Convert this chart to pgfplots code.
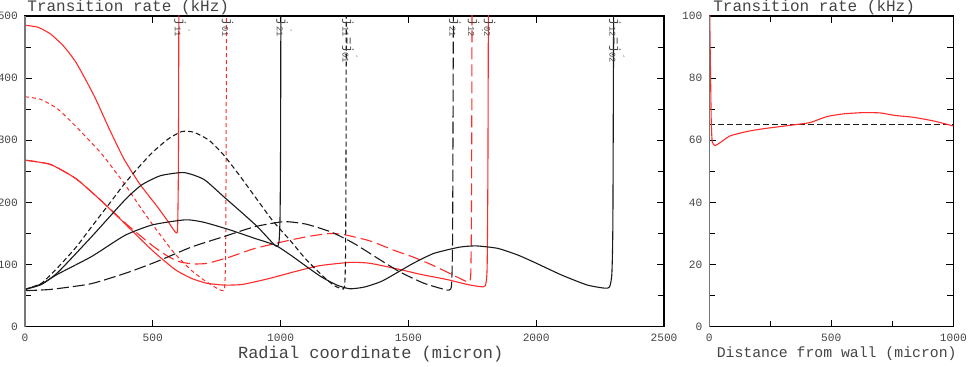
\documentclass[border=0pt]{standalone}
\usepackage{fontspec}
\setmainfont{Liberation Mono}
\setmonofont{Liberation Mono}
\usepackage{pgfplots}
\pgfplotsset{compat=1.18}
\definecolor{txtgray}{HTML}{444444}
\definecolor{spinegray}{HTML}{777777}
\definecolor{curvered}{HTML}{FF2A2A}
\definecolor{curveblk}{HTML}{1A1A1A}

\pgfplotsset{
  panel/.style={
    scale only axis, height=155.35pt, ymin=0,
    clip mode=individual,
    tick align=inside,
    major tick length=3.5pt, minor tick length=3pt,
    axis line style={black, line width=0.6pt},
    tick style={black, line width=0.5pt},
    tick label style={font=\fontsize{5.6}{6}\selectfont, text=txtgray},
    /pgf/number format/assume math mode=true,
    /pgf/number format/1000 sep={},
    xlabel style={anchor=center, text=txtgray},
  },
  rs/.style={curvered, line width=0.55pt, smooth, tension=0.35},
  rsd/.style={curvered, line width=0.5pt, smooth, tension=0.35, dash pattern=on 2pt off 1.5pt},
  rld/.style={curvered, line width=0.55pt, smooth, tension=0.35, dash pattern=on 6pt off 2.5pt},
  bs/.style={curveblk, line width=0.55pt, smooth, tension=0.35},
  bsd/.style={curveblk, line width=0.55pt, smooth, tension=0.35, dash pattern=on 2.5pt off 1.5pt},
  bld/.style={curveblk, line width=0.55pt, smooth, tension=0.35, dash pattern=on 6pt off 2pt},
}
\tikzset{
  zlab/.style={rotate=-90, anchor=south west, inner sep=0pt, xshift=1.2pt, yshift=-2.5pt,
    text=txtgray},
  ttl/.style={anchor=base west, inner sep=0pt, text=txtgray},
}
\newcommand{\jp}{j\rlap{\textsuperscript{\'{}}}}
\newcommand{\zl}[1]{{\fontsize{6.2}{7}\selectfont #1}}
\newcommand{\ttltext}{{\fontsize{8}{9}\selectfont Transition rate (kHz)}}

\begin{document}
\begin{tikzpicture}
\begin{axis}[panel,
  width=319.5pt,
  xmin=0, xmax=2500, ymax=500,
  xtick={0,500,...,2500}, ytick={0,100,...,500},
  minor ytick={50,150,...,450},
  xlabel={Radial coordinate (micron)},
  xlabel style={at={(rel axis cs:0.541,0)}, yshift=-13.7pt, font=\fontsize{8.5}{9}\selectfont},
]
% red solid, j'11
\addplot[rs] coordinates {(0,485)(50,482)(100,471)(150,452)(200,425)(270,372)(330,318)
  (387,270)(450,229)(518,193)(560,169)(583,155)(592,151)(597,158)(600,250)(602,520)};
% red short dash, j01
\addplot[rsd] coordinates {(0,370)(60,366)(126,351)(200,322)(300,278)(387,231)(450,193)
  (500,164)(583,119)(650,91)(700,75)(750,62)(772,58)(781,62)(785,120)(787,300)(788,520)};
% red long dash, j'12
\addplot[rld] coordinates {(0,268)(100,261)(200,238)(300,202)(400,164)(500,130)(560,113)
  (609,104)(660,101)(713,102)(800,112)(900,126)(1039,139.5)(1120,146)(1193,150)(1250,148)
  (1350,138)(1450,122)(1519,112)(1600,98)(1680,82)(1720,74)(1737,72)(1744,85)(1747,200)(1749,520)};
% red solid, j02
\addplot[rs] coordinates {(0,268)(100,261)(200,238)(300,202)(400,162)(500,122)(587,92)
  (650,78)(710,70)(778,67)(850,68)(950,77)(1050,88)(1150,98)(1271,103.5)(1350,102)
  (1467,92)(1550,84)(1650,76)(1730,68)(1780,64.5)(1801,66)(1808,95)(1811,250)(1813,520)};
% black solid, j'21
\addplot[bs] coordinates {(0,60)(65,68)(130,88)(261,145)(391,204)(456,228)(530,243)(622,248)
  (700,237)(778,209)(850,183)(909,161)(950,143)(975,132)(987,129)(994,137)(998,180)
  (1000,300)(1001,520)};
% black short dash, j11=j'01
\addplot[bsd] coordinates {(0,60)(65,70)(130,96)(200,128)(261,161)(330,198)(391,231)
  (450,259)(500,281)(560,302)(613,314)(660,313)(720,300)(778,276)(840,243)(909,204)
  (970,170)(1039,138)(1100,108)(1169,80)(1210,66)(1240,61)(1250,64)(1254,110)(1256,280)(1257,520)};
% black long dash, j21
\addplot[bld] coordinates {(0,58)(100,60)(257,69)(400,87)(517,105)(650,128)(778,145)
  (900,161)(1013,169)(1100,165)(1200,152)(1287,134)(1380,110)(1467,88)(1560,70)(1640,60)
  (1660,59)(1669,68)(1673,150)(1676,520)};
% black solid, j12=j'02
\addplot[bs] coordinates {(0,60)(65,69)(130,85)(261,113)(391,147)(500,164)(628,172)(700,168)
  (800,156)(900,142)(980,131)(1040,115)(1104,96)(1160,80)(1220,67)(1271,61)(1330,64)
  (1400,74)(1519,102)(1600,118)(1700,128)(1766,130)(1850,126)(1930,115)(2001,102)
  (2100,83)(2200,67)(2268,62)(2287,64)(2296,85)(2300,170)(2303,520)};
\node[zlab] at (axis cs:602,500) {\zl{\jp\textsubscript{11}}};
\node[zlab] at (axis cs:788,500) {\zl{j\textsubscript{01}}};
\node[zlab] at (axis cs:1001,500) {\zl{\jp\textsubscript{21}}};
\node[zlab] at (axis cs:1258,500) {\zl{j\textsubscript{11}=\jp\textsubscript{01}}};
\node[zlab] at (axis cs:1677,500) {\zl{j\textsubscript{21}}};
\node[zlab] at (axis cs:1750,500) {\zl{\jp\textsubscript{12}}};
\node[zlab] at (axis cs:1813,500) {\zl{j\textsubscript{02}}};
\node[zlab] at (axis cs:2303,500) {\zl{j\textsubscript{12}=\jp\textsubscript{02}}};
\draw[spinegray, line width=1pt] (rel axis cs:0,0) -- (rel axis cs:0,1);
\node[ttl] at (rel axis cs:0,1) [xshift=1pt, yshift=2pt] {\ttltext};
\end{axis}

\begin{axis}[panel, at={(342.15pt,0pt)},
  width=122pt,
  xmin=0, xmax=1000, ymax=100,
  xtick={0,500,1000}, minor xtick={250,750},
  ytick={0,20,...,100}, minor ytick={10,30,...,90},
  xlabel={Distance from wall (micron)},
  xlabel style={at={(rel axis cs:0.522,0)}, yshift=-13.7pt, font=\fontsize{7.4}{8}\selectfont},
]
\addplot[curveblk, line width=0.55pt, dash pattern=on 3pt off 1.5pt] coordinates {(0,65)(1000,65)};
\addplot[rs] coordinates {(1,130)(2,100)(5,82)(8,66)(12,59.5)(23,58.3)(40,59)(85,61.4)
  (153,62.8)(220,63.7)(290,64.4)(350,65)(413,65.7)(481,67.6)(550,68.5)(631,68.9)
  (700,68.8)(760,68)(836,67.4)(920,66.2)(1000,64.6)};
\draw[spinegray, line width=0.8pt] (rel axis cs:0,0) -- (rel axis cs:0,1);
\node[ttl] at (rel axis cs:0,1) [xshift=1.8pt, yshift=2pt] {\ttltext};
\end{axis}
\pgfresetboundingbox
\path[use as bounding box] (-12.5pt,-20.15pt) rectangle (472pt,163.35pt);
\end{tikzpicture}
\end{document}
